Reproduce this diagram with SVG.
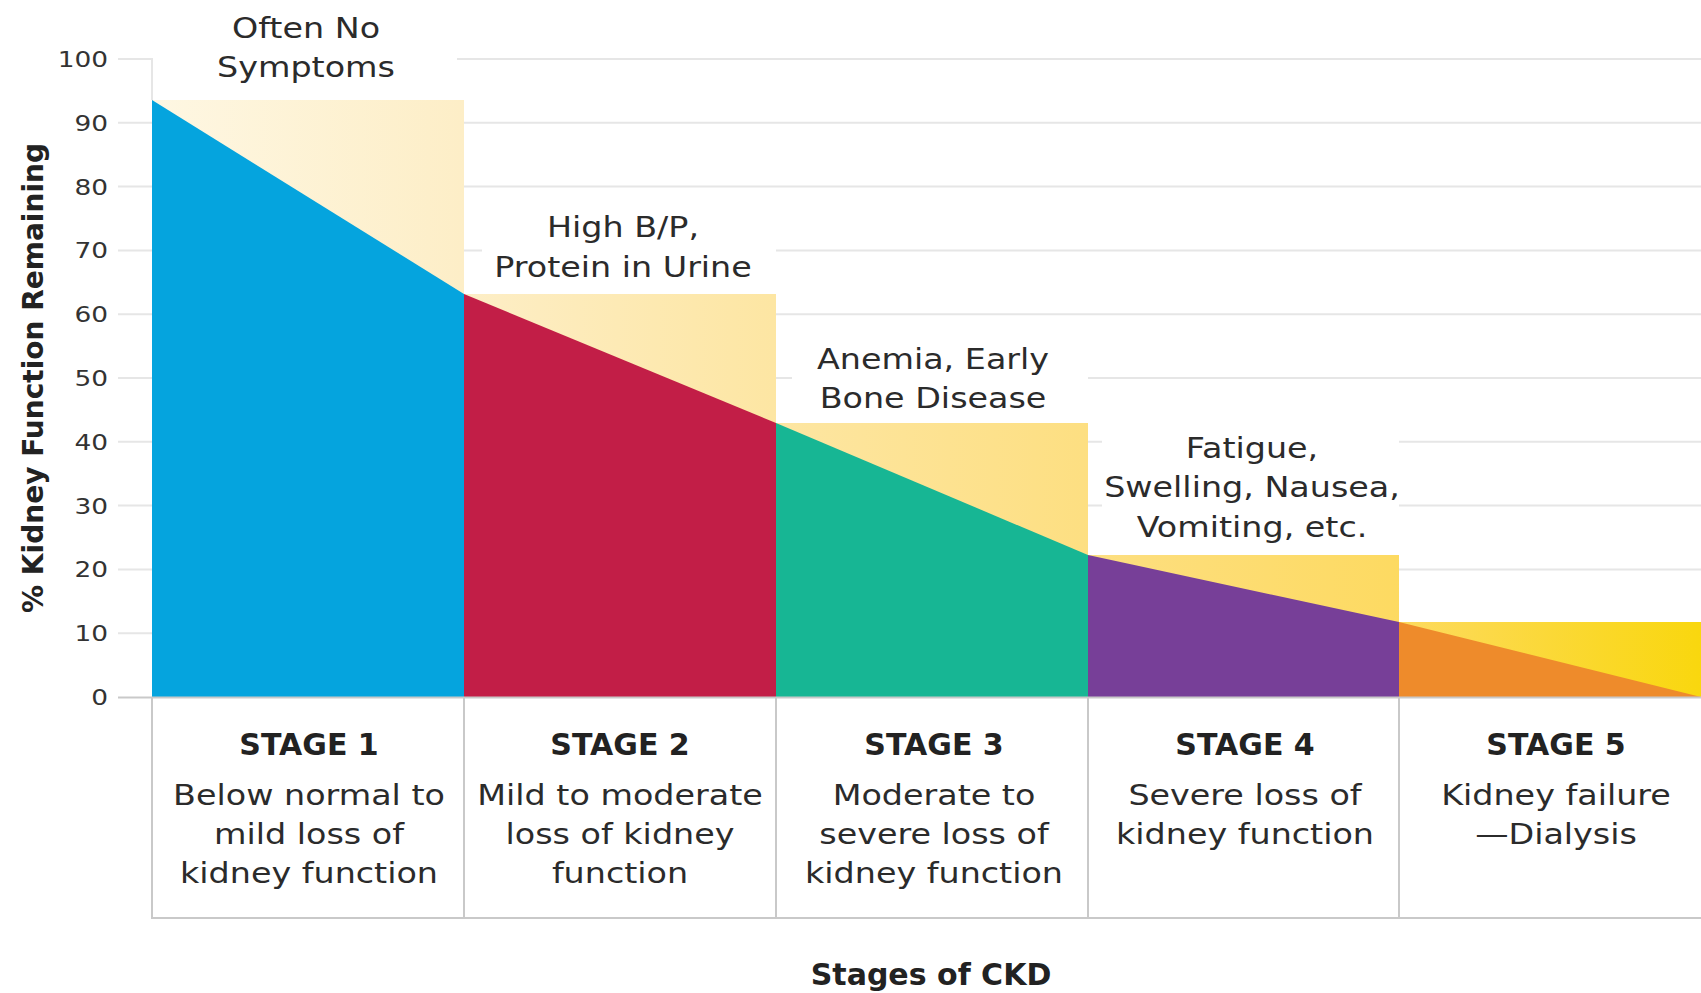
<svg xmlns="http://www.w3.org/2000/svg" width="1701" height="993" viewBox="0 0 1701 993">
<style>
.grid{stroke:#E6E6E6;stroke-width:2;fill:none}
.tbl{stroke:#C9C9C9;stroke-width:2;fill:none}
.t{font-family:"DejaVu Sans",Verdana,sans-serif;font-size:29px;fill:#2B2B2B}
.tick{font-family:"DejaVu Sans",Verdana,sans-serif;font-size:22px;fill:#333}
.h{font-family:"DejaVu Sans",Verdana,sans-serif;font-size:30px;font-weight:bold;fill:#222}
.yl{font-family:"DejaVu Sans",Verdana,sans-serif;font-size:28px;font-weight:bold;fill:#222}
.sym{fill:url(#yg)}
.mask{fill:#FFFFFF}
</style>
<defs>
<linearGradient id="yg" gradientUnits="userSpaceOnUse" x1="152" y1="0" x2="1701" y2="0">
<stop offset="0" stop-color="#FEF7E3"/>
<stop offset="0.2" stop-color="#FDEEC7"/>
<stop offset="0.4" stop-color="#FDE6A3"/>
<stop offset="0.6" stop-color="#FDDF82"/>
<stop offset="0.8" stop-color="#FDDA62"/>
<stop offset="1" stop-color="#F9D70E"/>
</linearGradient>
</defs>
<rect x="0" y="0" width="1701" height="993" fill="#FFFFFF"/>
<g id="axes">
<line class="grid" x1="118" y1="59" x2="1701" y2="59"/>
<line class="grid" x1="118" y1="122.8" x2="1701" y2="122.8"/>
<line class="grid" x1="118" y1="186.6" x2="1701" y2="186.6"/>
<line class="grid" x1="118" y1="250.4" x2="1701" y2="250.4"/>
<line class="grid" x1="118" y1="314.2" x2="1701" y2="314.2"/>
<line class="grid" x1="118" y1="378" x2="1701" y2="378"/>
<line class="grid" x1="118" y1="441.8" x2="1701" y2="441.8"/>
<line class="grid" x1="118" y1="505.6" x2="1701" y2="505.6"/>
<line class="grid" x1="118" y1="569.4" x2="1701" y2="569.4"/>
<line class="grid" x1="118" y1="633.2" x2="1701" y2="633.2"/>
<rect class="mask" x="153" y="0" width="304" height="100"/>
<rect class="mask" x="482" y="198" width="294" height="96"/>
<rect class="mask" x="792" y="330" width="296" height="93"/>
<rect class="mask" x="1102" y="428" width="297" height="127"/>
<line class="grid" x1="152" y1="59" x2="152" y2="100"/>
<g transform="translate(108,0) scale(1.2,1)">
<text class="tick" text-anchor="end" x="0" y="67">100</text>
<text class="tick" text-anchor="end" x="0" y="130.8">90</text>
<text class="tick" text-anchor="end" x="0" y="194.6">80</text>
<text class="tick" text-anchor="end" x="0" y="258.4">70</text>
<text class="tick" text-anchor="end" x="0" y="322.2">60</text>
<text class="tick" text-anchor="end" x="0" y="386">50</text>
<text class="tick" text-anchor="end" x="0" y="449.8">40</text>
<text class="tick" text-anchor="end" x="0" y="513.6">30</text>
<text class="tick" text-anchor="end" x="0" y="577.4">20</text>
<text class="tick" text-anchor="end" x="0" y="641.2">10</text>
<text class="tick" text-anchor="end" x="0" y="705">0</text>
</g>
<text class="yl" text-anchor="middle" transform="translate(43,378) rotate(-90)" x="0" y="0">% Kidney Function Remaining</text>
</g>
<g id="stage1">
<rect class="sym" x="152" y="100" width="312" height="597"/>
<polygon fill="#05A4DE" points="152,100 464,294 464,697 152,697"/>
<g transform="translate(306,0) scale(1.15,1)"><text class="t" text-anchor="middle"><tspan x="0" y="38">Often No</tspan><tspan x="0" y="77">Symptoms</tspan></text></g>
<text class="h" text-anchor="middle" x="309" y="755">STAGE 1</text>
<g transform="translate(309,0) scale(1.15,1)"><text class="t" text-anchor="middle"><tspan x="0" y="805">Below normal to</tspan><tspan x="0" y="844">mild loss of</tspan><tspan x="0" y="883">kidney function</tspan></text></g>
</g>
<g id="stage2">
<rect class="sym" x="464" y="294" width="312" height="403"/>
<polygon fill="#C21E47" points="464,294 776,423 776,697 464,697"/>
<g transform="translate(623,0) scale(1.15,1)"><text class="t" text-anchor="middle"><tspan x="0" y="237">High B/P,</tspan><tspan x="0" y="277">Protein in Urine</tspan></text></g>
<text class="h" text-anchor="middle" x="620" y="755">STAGE 2</text>
<g transform="translate(620,0) scale(1.15,1)"><text class="t" text-anchor="middle"><tspan x="0" y="805">Mild to moderate</tspan><tspan x="0" y="844">loss of kidney</tspan><tspan x="0" y="883">function</tspan></text></g>
</g>
<g id="stage3">
<rect class="sym" x="776" y="423" width="312" height="274"/>
<polygon fill="#17B694" points="776,423 1088,555 1088,697 776,697"/>
<g transform="translate(933,0) scale(1.15,1)"><text class="t" text-anchor="middle"><tspan x="0" y="369">Anemia, Early</tspan><tspan x="0" y="408">Bone Disease</tspan></text></g>
<text class="h" text-anchor="middle" x="934" y="755">STAGE 3</text>
<g transform="translate(934,0) scale(1.15,1)"><text class="t" text-anchor="middle"><tspan x="0" y="805">Moderate to</tspan><tspan x="0" y="844">severe loss of</tspan><tspan x="0" y="883">kidney function</tspan></text></g>
</g>
<g id="stage4">
<rect class="sym" x="1088" y="555" width="311" height="142"/>
<polygon fill="#773F98" points="1088,555 1399,622 1399,697 1088,697"/>
<g transform="translate(1252,0) scale(1.15,1)"><text class="t" text-anchor="middle"><tspan x="0" y="458">Fatigue,</tspan><tspan x="0" y="497">Swelling, Nausea,</tspan><tspan x="0" y="537">Vomiting, etc.</tspan></text></g>
<text class="h" text-anchor="middle" x="1245" y="755">STAGE 4</text>
<g transform="translate(1245,0) scale(1.15,1)"><text class="t" text-anchor="middle"><tspan x="0" y="805">Severe loss of</tspan><tspan x="0" y="844">kidney function</tspan></text></g>
</g>
<g id="stage5">
<rect class="sym" x="1399" y="622" width="302" height="75"/>
<polygon fill="#EE8B2B" points="1399,622 1701,697 1399,697"/>
<text class="h" text-anchor="middle" x="1556" y="755">STAGE 5</text>
<g transform="translate(1556,0) scale(1.15,1)"><text class="t" text-anchor="middle"><tspan x="0" y="805">Kidney failure</tspan><tspan x="0" y="844">—Dialysis</tspan></text></g>
</g>
<g id="table">
<line class="tbl" x1="118" y1="697.5" x2="1701" y2="697.5"/>
<line class="tbl" x1="152" y1="918" x2="1701" y2="918"/>
<line class="tbl" x1="152" y1="697" x2="152" y2="919"/>
<line class="tbl" x1="464" y1="697" x2="464" y2="919"/>
<line class="tbl" x1="776" y1="697" x2="776" y2="919"/>
<line class="tbl" x1="1088" y1="697" x2="1088" y2="919"/>
<line class="tbl" x1="1399" y1="697" x2="1399" y2="919"/>
<text class="h" text-anchor="middle" x="931" y="985">Stages of CKD</text>
</g>
<g id="connectors"></g>
</svg>
